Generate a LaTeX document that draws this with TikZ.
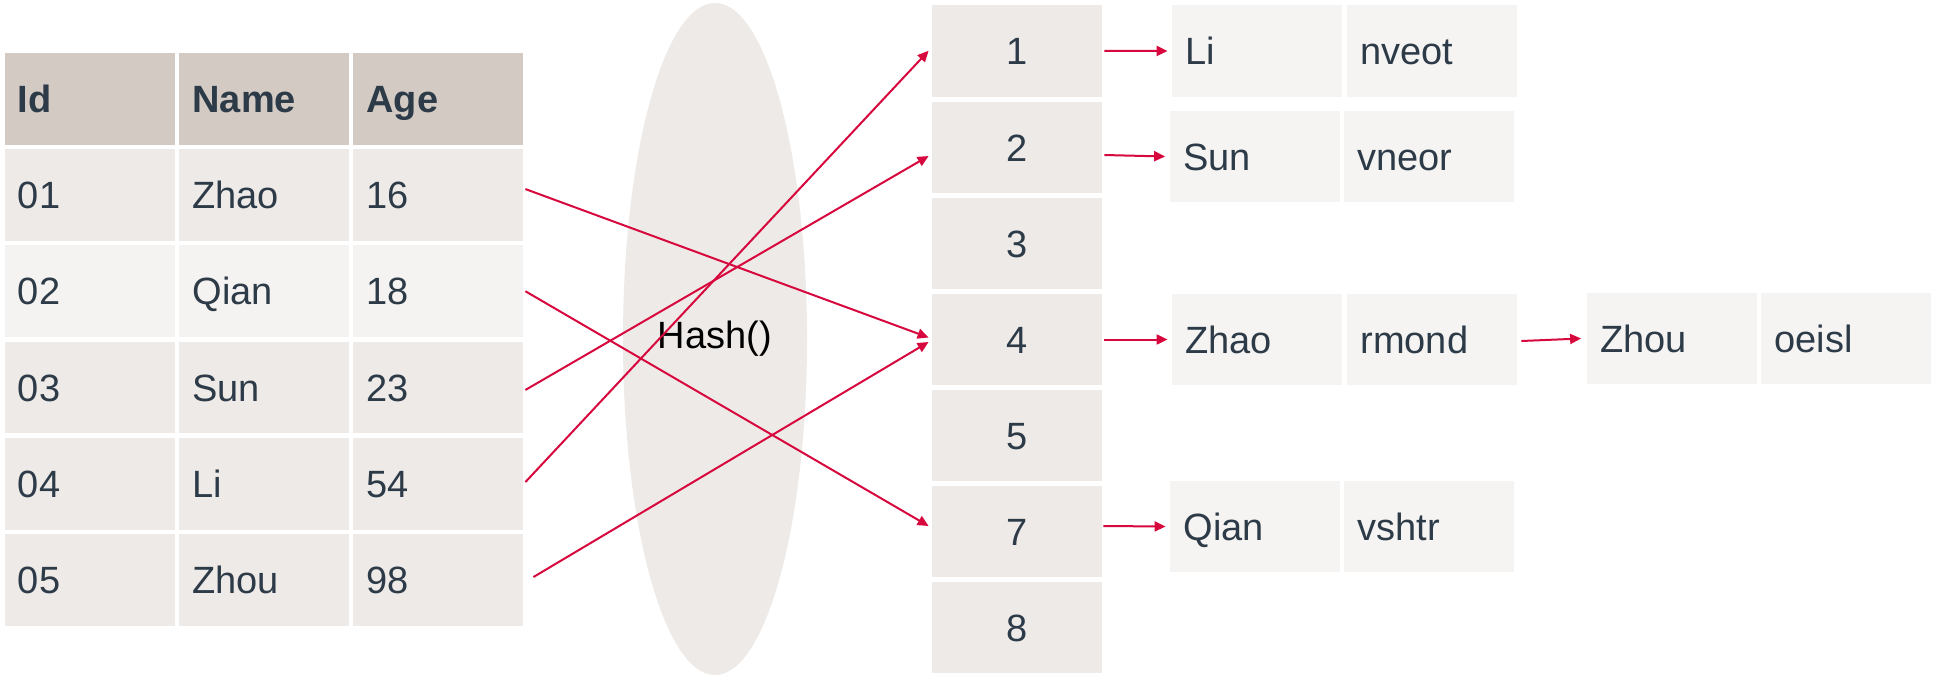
\documentclass[tikz,border=0pt]{standalone}
\usepackage{fontspec}
\setmainfont{Liberation Sans}
\usetikzlibrary{arrows.meta,shapes.geometric}
\definecolor{hdrc}{HTML}{D3CAC4}
\definecolor{rowc}{HTML}{EEEAE7}
\definecolor{rowl}{HTML}{F5F3F1}
\definecolor{chainc}{HTML}{F5F4F2}
\definecolor{txtc}{HTML}{2D3B48}
\definecolor{arrc}{HTML}{D7083E}
\begin{document}
\begin{tikzpicture}[x=0.5pt,y=-0.5pt,
  basecell/.style={minimum width=85pt, minimum height=45.85pt, inner sep=0pt,
    text height=13.6pt, text depth=0pt, font=\fontsize{19}{22}\selectfont, text=txtc},
  tcell/.style={basecell, fill=rowc, text width=71.5pt, align=left},
  lcell/.style={tcell, fill=rowl},
  hcell/.style={tcell, fill=hdrc, font=\fontsize{19}{22}\selectfont\bfseries},
  bcell/.style={basecell, fill=rowc, align=center},
  ccell/.style={basecell, fill=chainc, text width=71.5pt, align=left},
  arr/.style={draw=arrc, line width=1pt, -{Triangle[length=5.5pt,width=5pt]}}
]
\fill[white] (0,0) rectangle (1938,681);
\useasboundingbox (0,0) rectangle (1938,681);

% hash ellipse
\node[ellipse, fill=rowc, minimum width=92pt, minimum height=336pt, inner sep=0pt,
  font=\fontsize{19}{22}\selectfont, text=black] (hash) at (715,339) {Hash()};

% table
\node[hcell] (h1) at (89.5,98.85) {Id};
\node[hcell] (h2) at (264,98.85) {Name};
\node[hcell] (h3) at (438,98.85) {Age};

\node[tcell] (r1a) at (89.5,195.05) {01};
\node[tcell] (r1b) at (264,195.05) {Zhao};
\node[tcell] (r1c) at (438,195.05) {16};

\node[lcell] (r2a) at (89.5,291.25) {02};
\node[lcell] (r2b) at (264,291.25) {Qian};
\node[lcell] (r2c) at (438,291.25) {18};

\node[tcell] (r3a) at (89.5,387.45) {03};
\node[tcell] (r3b) at (264,387.45) {Sun};
\node[tcell] (r3c) at (438,387.45) {23};

\node[tcell] (r4a) at (89.5,483.65) {04};
\node[tcell] (r4b) at (264,483.65) {Li};
\node[tcell] (r4c) at (438,483.65) {54};

\node[tcell] (r5a) at (89.5,579.85) {05};
\node[tcell] (r5b) at (264,579.85) {Zhou};
\node[tcell] (r5c) at (438,579.85) {98};

% buckets
\node[bcell] (b1) at (1017,50.75) {1};
\node[bcell] (b2) at (1017,147.5) {2};
\node[bcell] (b3) at (1017,243.5) {3};
\node[bcell] (b4) at (1017,339.5) {4};
\node[bcell] (b5) at (1017,435.5) {5};
\node[bcell] (b7) at (1017,531.5) {7};
\node[bcell] (b8) at (1017,627.5) {8};

% chains
\node[ccell] (c1a) at (1257,51) {Li};
\node[ccell] (c1b) at (1431.5,51) {nveot};
\node[ccell] (c2a) at (1254.5,156.5) {Sun};
\node[ccell] (c2b) at (1429,156.5) {vneor};
\node[ccell] (c4a) at (1257,339.5) {Zhao};
\node[ccell] (c4b) at (1432,339.5) {rmond};
\node[ccell] (c4c) at (1671.5,338.5) {Zhou};
\node[ccell] (c4d) at (1846,338.5) {oeisl};
\node[ccell] (c7a) at (1255,526.5) {Qian};
\node[ccell] (c7b) at (1429,526.5) {vshtr};

% table -> buckets
\draw[arr] ([xshift=1pt,yshift=3pt]r1c.east) -- ([xshift=-1.5pt,yshift=1pt]b4.west);
\draw[arr] ([xshift=1pt]r2c.east) -- ([xshift=-1.5pt,yshift=2.75pt]b7.west);
\draw[arr] ([xshift=1pt,yshift=-1.25pt]r3c.east) -- ([xshift=-1.5pt,yshift=-4.25pt]b2.west);
\draw[arr] ([xshift=1pt,yshift=0.8pt]r4c.east) -- ([xshift=-1.5pt]b1.west);
\draw[arr] ([xshift=5pt,yshift=1.4pt]r5c.east) -- ([xshift=-1.5pt,yshift=-1.25pt]b4.west);

% buckets -> chains
\draw[arr] ([xshift=1pt]b1.east) -- ([xshift=-2pt]c1a.west);
\draw[arr] ([xshift=1pt,yshift=-3.75pt]b2.east) -- ([xshift=-2pt]c2a.west);
\draw[arr] ([xshift=1pt]b4.east) -- ([xshift=-2pt]c4a.west);
\draw[arr] ([xshift=0.5pt,yshift=2.75pt]b7.east) -- ([xshift=-2pt]c7a.west);
\draw[arr] ([xshift=2pt,yshift=-0.75pt]c4b.east) -- ([xshift=-2.5pt]c4c.west);
\end{tikzpicture}
\end{document}
